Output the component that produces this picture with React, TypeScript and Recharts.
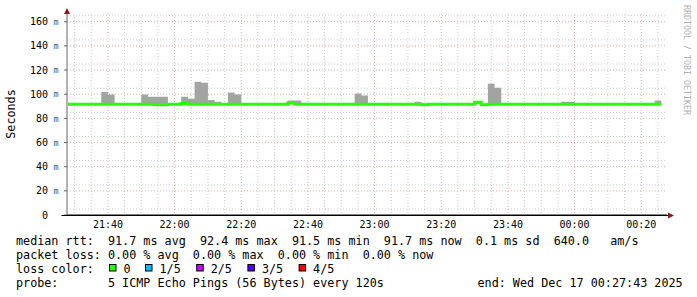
import { ComposedChart, Area, Line, XAxis, YAxis, CartesianGrid } from 'recharts'

// median rtt per 2-minute bin (ms), first bin starts 21:28
const MEDIAN_RTT = [
  91.7, 91.7, 91.7, 91.7, 91.7, 91.7, 91.7, 91.7, 91.7, 91.7,
  91.7, 91.7, 91.7, 91.2, 91.2, 91.7, 91.7, 92.3, 91.7, 91.7,
  91.7, 91.7, 91.7, 91.7, 91.7, 91.7, 91.7, 91.7, 91.7, 91.7,
  91.7, 91.7, 91.7, 93.0, 91.7, 91.7, 91.7, 91.7, 91.7, 91.7,
  91.7, 91.7, 91.7, 91.7, 91.7, 91.7, 91.7, 91.7, 91.7, 91.7,
  91.7, 91.7, 91.7, 91.2, 91.7, 91.7, 91.7, 91.7, 91.7, 91.7,
  91.7, 93.4, 91.2, 91.7, 91.7, 91.7, 91.7, 91.7, 91.7, 91.7,
  91.7, 91.7, 91.7, 91.7, 91.7, 91.7, 91.7, 91.7, 91.7, 91.7,
  91.7, 91.7, 91.7, 91.7, 91.7, 91.7, 91.7, 91.7, 91.7,
]
// top of the smoke (slowest ping) per bin
const MAX_RTT = [
  91.9, 91.9, 91.9, 91.9, 91.9, 101.8, 99.7, 91.9, 91.9, 91.9,
  91.9, 99.7, 97.8, 97.8, 97.8, 91.9, 91.9, 97.8, 96.2, 110.3,
  109.4, 95.3, 93.7, 91.9, 101.4, 99.7, 91.9, 91.9, 91.9, 91.9,
  91.9, 91.9, 91.9, 94.8, 94.8, 91.9, 91.9, 91.9, 91.9, 91.9,
  91.9, 91.9, 91.9, 100.6, 98.9, 91.9, 91.9, 91.9, 91.9, 91.9,
  91.9, 91.9, 93.7, 91.9, 91.9, 91.9, 91.9, 91.9, 91.9, 91.9,
  91.9, 93.6, 91.9, 108.6, 105.3, 91.9, 91.9, 91.9, 91.9, 91.9,
  91.9, 91.9, 91.9, 91.9, 93.7, 93.7, 91.9, 91.9, 91.9, 91.9,
  91.9, 91.9, 91.9, 91.9, 91.9, 91.9, 91.9, 91.9, 94.8,
]
const MIN_RTT = 91.4

const START_MIN = 28 // minutes after 21:00
const STEP_MIN = 2
const X_DOMAIN = [27.72, 207.72] // 21:27:43 .. 00:27:43

const Y_TICKS = [0, 20, 40, 60, 80, 100, 120, 140, 160]
const TIME_TICKS = [40, 60, 80, 100, 120, 140, 160, 180, 200]
const TIME_LABELS = ['21:40', '22:00', '22:20', '22:40', '23:00', '23:20', '23:40', '00:00', '00:20']

const LOSS_LABELS = ['0', '1/5', '2/5', '3/5', '4/5']
const LOSS_COLORS = ['#26ff00', '#00b8ff', '#cc00ff', '#5500ff', '#ff0000']

const STAT_LINES = [
  'median rtt:  91.7 ms avg  92.4 ms max  91.5 ms min  91.7 ms now  0.1 ms sd  640.0   am/s',
  'packet loss: 0.00 % avg  0.00 % max  0.00 % min  0.00 % now',
]
const PROBE_TEXT = 'probe:       5 ICMP Echo Pings (56 Bytes) every 120s'
const END_TEXT = 'end: Wed Dec 17 00:27:43 2025'

const MONO = '"DejaVu Sans Mono", monospace'

const table = MEDIAN_RTT.map((m, i) => ({ t: START_MIN + STEP_MIN * i, med: m, lo: MIN_RTT, hi: MAX_RTT[i] }))
// close the last step
const last = table[table.length - 1]
table.push({ ...last, t: last.t + STEP_MIN })

const minorY = Array.from({ length: 33 }, (_, i) => 5 + i * 5)
const minorX = Array.from({ length: 36 }, (_, i) => 30 + i * 5)

function RttTick({ y, payload }: any) {
  const v = payload.value
  return (
    <g>
      <text x={48} y={y} dy={3.6} textAnchor="end" fontFamily={MONO} fontSize={10} fill="#000">{v}</text>
      {v !== 0 && <text x={53.5} y={y} dy={3.2} fontFamily={MONO} fontSize={8.5} fill="#555">m</text>}
    </g>
  )
}

export default function App() {
  return (
    <div style={{ position: 'absolute', left: 0, top: 0, width: 697, height: 297, background: '#fff' }}>
      <ComposedChart width={697} height={297} data={table} margin={{ top: 14, right: 30, left: 7, bottom: 0 }}>
        <CartesianGrid horizontalValues={minorY} verticalValues={minorX} stroke="#cfcfcf" strokeDasharray="1 2" />
        <CartesianGrid horizontalValues={Y_TICKS.slice(1)} verticalValues={TIME_TICKS} stroke="#e6a8a8" strokeDasharray="1 2" />
        <XAxis
          dataKey="t" type="number" domain={X_DOMAIN} ticks={TIME_TICKS} allowDataOverflow
          tickFormatter={(v: number) => TIME_LABELS[TIME_TICKS.indexOf(v)]}
          height={82} tickLine={false} tickSize={6} tickMargin={0}
          axisLine={{ stroke: '#000' }}
          tick={{ fontSize: 10, fontFamily: MONO, fill: '#000' }}
        />
        <YAxis
          type="number" domain={[0, 166.4]} ticks={Y_TICKS} width={60}
          axisLine={{ stroke: '#666' }} tickLine={{ stroke: '#666' }} tickSize={3}
          tick={<RttTick />}
        />
        <Area
          dataKey={(d: any) => [d.lo, d.hi]} type="stepAfter" fill="#a3a3a3" fillOpacity={1}
          stroke="none" isAnimationActive={false} dot={false} activeDot={false}
        />
        <Line
          dataKey="med" type="stepAfter" stroke={LOSS_COLORS[0]} strokeWidth={3}
          dot={false} activeDot={false} isAnimationActive={false}
        />
      </ComposedChart>
      <svg width={697} height={297} style={{ position: 'absolute', left: 0, top: 0, pointerEvents: 'none' }}>
        <line x1={61.5} y1={215.5} x2={669} y2={215.5} stroke="#000" />
        <polygon points="67,8 64,14 70,14" fill="#8b1a1a" />
        <polygon points="674,215.5 668,212.5 668,218.5" fill="#8b1a1a" />
        <text transform="translate(15,114) rotate(-90)" textAnchor="middle" fontFamily={MONO} fontSize={11.75} fill="#000">Seconds</text>
        <text transform="translate(684,5) rotate(90)" fontFamily={MONO} fontSize={8.3} fill="#b0b0b0">RRDTOOL / TOBI OETIKER</text>
        {STAT_LINES.map((s, i) => (
          <text key={i} x={16} y={245 + i * 13.9} fontFamily={MONO} fontSize={11.75} fill="#000" style={{ whiteSpace: 'pre' }}>{s}</text>
        ))}
        <text x={16} y={272.8} fontFamily={MONO} fontSize={11.75} fill="#000">loss color:</text>
        {LOSS_LABELS.map((l, i) => {
          const bx = i === 0 ? 109 : 145 + (i - 1) * 51.2
          return (
            <g key={l}>
              <rect x={bx + 0.5} y={264.5} width={6.5} height={6.5} fill={LOSS_COLORS[i]} stroke="#000" />
              <text x={bx + 14.5} y={272.8} fontFamily={MONO} fontSize={11.75} fill="#000">{l}</text>
            </g>
          )
        })}
        <text x={16} y={286.7} fontFamily={MONO} fontSize={11.75} fill="#000" style={{ whiteSpace: 'pre' }}>{PROBE_TEXT}</text>
        <text x={477.5} y={286.7} fontFamily={MONO} fontSize={11.75} fill="#000">{END_TEXT}</text>
      </svg>
    </div>
  )
}
